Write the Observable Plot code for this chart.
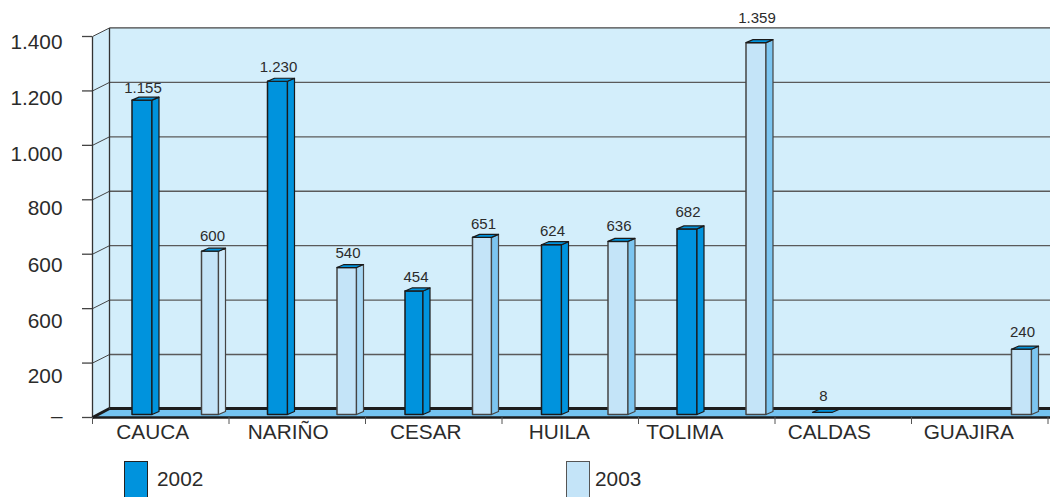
<!DOCTYPE html>
<html><head><meta charset="utf-8">
<script src="https://cdn.jsdelivr.net/npm/d3@7"></script>
<script src="https://cdn.jsdelivr.net/npm/@observablehq/plot@0.6"></script>
<style>
html,body{margin:0;padding:0;background:#fff;overflow:hidden;width:1050px;height:497px}
#chart svg{display:block}
#legend{position:relative;height:39px;font:20.8px "Liberation Sans",Arial,sans-serif;color:#2b2b2b}
#legend .sw{position:absolute;top:3px;width:24px;height:36px;border:1.5px solid #222;border-bottom:none;box-sizing:border-box}
#legend .tx{position:absolute;top:9px;line-height:24px}
</style></head><body>
<div id="chart"></div>
<div id="legend"></div>
<script>
const categories = ["CAUCA","NARIÑO","CESAR","HUILA","TOLIMA","CALDAS","GUAJIRA"];
const years = ["2002","2003"];
const values2002 = [1155,1230,454,624,682,8,null];
const values2003 = [600,540,651,636,1359,null,240];
const yTicks = [1400,1200,1000,800,600,400,200,0];
const yTickLabels = ["1.400","1.200","1.000","800","600","600","200","–"];

// layout constants (pixels)
const ux = 1/136.5, uy = 1400/381;
const depthX = 17*ux, depthY = 9*uy, barBase = 3*uy, barW = 20*ux, sideX = 7*ux, sideY = 3*uy;
const yLabelNudge = [6,7,9,9,11,13,13,-1];
const catNudge = [-7,-8,-7,-10,-21,-13,-10];
const wallRight = 7.02;
const ink = "#222", textCol = "#2b2b2b";
const fmt = v => d3.format(",")(v).replace(/,/g,".");

const colors = {
  "2002": {front:"#0093DD", side:"#0093DD", top:"#0093DD", stroke:"#1a1a1a"},
  "2003": {front:"#C4E4F8", side:"#7CC5F0", top:"#0093DD", stroke:"#444"}
};
const sideOverride = {"0:2003":"#CFEAFA","1:2003":"#A8D8F5"};
// small drawing adjustments per bar, in pixels
const shape = {
  "0:2003":{dx:1.5,w:17}, "1:2002":{dx:-1,top:-1.5}, "1:2003":{dx:0.5,w:19.5},
  "2:2002":{w:18}, "2:2003":{dx:-0.5,w:19}, "3:2003":{dx:-1.5},
  "4:2002":{dx:-1}, "4:2003":{top:2}, "5:2002":{dx:-2}
};
const lifts = {"0:2002":12,"1:2002":14.5,"2:2002":14,"3:2002":13,"4:2002":17,"5:2002":16,
               "0:2003":15,"1:2003":14,"2:2003":13,"3:2003":15,"4:2003":24,"6:2003":17};

const bars = [];
categories.forEach((c,i)=>{
  if(values2002[i]!=null) bars.push({i,year:"2002",v:values2002[i],left:i+39.5*ux});
  if(values2003[i]!=null) bars.push({i,year:"2003",v:values2003[i],left:i+107.5*ux-(c==="GUAJIRA"?7.5*ux:0)});
});

const poly = (pts,fill,stroke,sw) => Plot.line(
  pts.concat([pts[0]]).map(p=>({x:p[0],y:p[1]})),
  {x:"x",y:"y",fill,stroke:stroke||"none",strokeWidth:sw||1,curve:"linear"});
const seg = (a,b,stroke,sw) => Plot.line(
  [a,b].map(p=>({x:p[0],y:p[1]})),
  {x:"x",y:"y",stroke,strokeWidth:sw||1,strokeLinecap:"butt"});

const marks = [];
// back wall and side wall
marks.push(poly([[depthX,depthY],[wallRight,depthY],[wallRight,1400+depthY*0.95],[depthX,1400+depthY*0.95]],"#D3EEFB"));
marks.push(poly([[0,0],[depthX,depthY],[depthX,1400+depthY*0.95],[0,1400]],"#D3EEFB"));
// gridlines
yTicks.filter(t=>t>0).forEach(t=>{
  marks.push(seg([depthX,t+depthY*0.95],[wallRight,t+depthY*0.95],t===1400?"#444":"#5a5a5a",1.3));
  marks.push(seg([0,t],[depthX,t+depthY*0.95],"#444",1));
});
marks.push(seg([depthX,depthY],[depthX,1400+depthY*0.95],"#333",1.3));
marks.push(seg([0,0],[0,1400],"#333",1.3));
// floor
marks.push(poly([[0,0],[depthX,depthY],[wallRight,depthY],[wallRight,0]],"#74C3F0"));
marks.push(seg([depthX,depthY],[wallRight,depthY],"#1c1c1c",3));
marks.push(seg([0,0],[depthX,depthY],"#1c1c1c",3));
marks.push(seg([0,0],[wallRight,0],"#1c1c1c",2.6));
// y ticks and labels
marks.push(Plot.ruleY(yTicks,{x1:-10*ux,x2:0,y:d=>d,stroke:"#444",strokeWidth:1.3}));
yTicks.forEach((t,k)=>marks.push(Plot.text([t],{
  x:-30*ux,y:d=>d,text:[yTickLabels[k]],textAnchor:"end",dy:yLabelNudge[k],
  fontSize:20.8,fill:textCol})));
// category ticks and labels
marks.push(Plot.ruleX(d3.range(0,8),{x:d=>d,y1:-7*uy,y2:0,stroke:"#555",strokeWidth:1}));
categories.forEach((c,i)=>marks.push(Plot.text([c],{
  x:i+0.5,y:0,text:d=>d,dx:catNudge[i]-1,dy:15,fontSize:20.8,fill:textCol})));
// 3D bars
bars.forEach(b=>{
  const col = colors[b.year], key = b.i+":"+b.year, s = shape[key]||{};
  const L=b.left+(s.dx||0)*ux, R=L+(s.w||20)*ux, B=barBase, T=barBase+b.v+(s.top||0)*uy;
  const sideCol = sideOverride[key]||col.side;
  if(b.v>50){
    marks.push(poly([[L,B],[R,B],[R,T],[L,T]],col.front,col.stroke,1.5));
    marks.push(poly([[R,B],[R+sideX,B+sideY],[R+sideX,T+sideY],[R,T]],sideCol,col.stroke,1.2));
  }
  marks.push(poly([[L,T],[R,T],[R+sideX,T+sideY],[L+sideX,T+sideY]],col.top,"#1a1a1a",1.2));
  marks.push(Plot.text([b],{x:L+11*ux,y:T,text:d=>fmt(d.v),dy:-lifts[key],fontSize:15,fill:textCol}));
});

const chart = Plot.plot({
  width:1050,height:458,
  marginLeft:0,marginRight:0,marginTop:0,marginBottom:0,
  style:{fontFamily:'"Liberation Sans",Arial,sans-serif',background:"transparent",overflow:"hidden"},
  x:{axis:null,type:"linear",domain:[0,7],range:[92,1047.5]},
  y:{axis:null,type:"linear",domain:[0,1400],range:[417,36]},
  marks
});
document.getElementById("chart").append(chart);

const leg = document.getElementById("legend");
[[124,157,"2002"],[566,595,"2003"]].forEach(([sx,tx,y])=>{
  const s=document.createElement("div");s.className="sw";s.style.left=sx+"px";
  s.style.background=colors[y].front;
  if(y==="2003"){s.style.borderColor="#555"}
  const t=document.createElement("div");t.className="tx";t.style.left=tx+"px";t.textContent=y;
  leg.append(s,t);
});
</script>
</body></html>
